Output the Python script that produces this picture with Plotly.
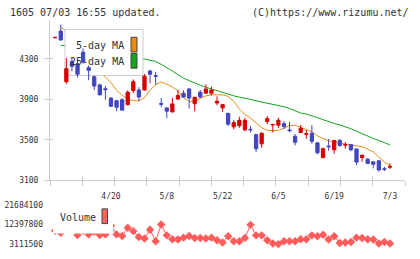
import plotly.graph_objects as go

W, H = 420, 259

# ---------------- data ----------------
date_labels = ["4/20", "5/8", "5/22", "6/5", "6/19", "7/3"]
label_index = [10, 20, 30, 40, 50, 60]

opens = [4508, 4574, 4074, 4274, 4252, 4365, 4213, 4123, 4042, 4004,
         3913, 3887, 3897, 3848, 3987, 3993, 3993, 4181, 4135, 3860,
         3816, 3777, 3903, 3961, 4003, 3858, 3971, 3961, 3961, 3865,
         3816, 3761, 3629, 3639, 3600, 3605, 3552, 3461, 3681, 3647,
         3645, 3661, 3598, 3536, 3574, 3555, 3565, 3471, 3326, 3440,
         3403, 3494, 3448, 3455, 3410, 3326, 3310, 3284, 3294, 3215,
         3230]
highs = [4515, 4639, 4307, 4316, 4300, 4403, 4235, 4135, 4055, 4032,
         3920, 3895, 3910, 3990, 4097, 4020, 4150, 4190, 4171, 3913,
         3820, 3913, 3993, 3990, 4010, 3925, 3993, 4048, 4026, 3929,
         3855, 3770, 3697, 3729, 3719, 3639, 3560, 3575, 3736, 3661,
         3719, 3687, 3678, 3558, 3649, 3597, 3645, 3480, 3425, 3510,
         3500, 3510, 3477, 3460, 3415, 3355, 3320, 3290, 3300, 3235,
         3268]
lows = [4503, 4477, 4051, 4177, 4116, 4252, 4090, 3993, 3940, 3897,
        3825, 3784, 3790, 3840, 3961, 3881, 3985, 4058, 4042, 3823,
        3713, 3770, 3897, 3918, 3810, 3784, 3916, 3955, 3939, 3842,
        3777, 3639, 3606, 3620, 3584, 3574, 3381, 3422, 3655, 3574,
        3616, 3606, 3574, 3445, 3567, 3510, 3461, 3355, 3316, 3393,
        3364, 3432, 3413, 3387, 3252, 3284, 3262, 3219, 3187, 3194,
        3213]
closes = [4512, 4487, 4203, 4226, 4148, 4268, 4187, 4032, 3945, 3996,
          3832, 3823, 3794, 3971, 4074, 3923, 4129, 4148, 4128, 3852,
          3784, 3855, 3939, 3923, 3913, 3920, 3923, 4003, 3993, 3881,
          3848, 3655, 3671, 3694, 3694, 3600, 3413, 3565, 3710, 3652,
          3694, 3632, 3592, 3477, 3616, 3561, 3487, 3374, 3413, 3433,
          3494, 3445, 3455, 3403, 3281, 3349, 3268, 3260, 3203, 3210,
          3238]
ma5 = [None, 4610, 4575, 4480, 4400, 4330, 4260, 4220, 4160, 4120,
       4065, 3990, 3940, 3905, 3887, 3887, 3915, 3990, 4045, 4072,
       4048, 4022, 3985, 3915, 3880, 3880, 3910, 3935, 3945, 3948,
       3945, 3930, 3880, 3805, 3750, 3717, 3670, 3620, 3595, 3590,
       3595, 3615, 3640, 3645, 3625, 3598, 3580, 3540, 3515, 3490,
       3483, 3471, 3455, 3447, 3442, 3432, 3410, 3381, 3330, 3280,
       3245]
ma25 = [None, 4435, 4425, 4415, 4405, 4395, 4385, 4375, 4365, 4355,
        4345, 4335, 4325, 4315, 4305, 4300, 4298, 4290, 4275, 4245,
        4215, 4180, 4145, 4110, 4085, 4060, 4040, 4020, 4003, 3982,
        3962, 3948, 3935, 3922, 3913, 3900, 3885, 3875, 3865, 3855,
        3840, 3828, 3810, 3790, 3765, 3755, 3740, 3720, 3700, 3680,
        3662, 3648, 3632, 3610, 3585, 3560, 3535, 3515, 3495, 3475,
        3451]
volume = [9500000, 8500000, 11000000, 10000000, 7500000, 9500000, 7750000, 9000000, 7500000, 7750000,
          12000000, 7750000, 6970000, 10870000, 9290000, 6500000, 5760000, 9940000, 4500000, 12400000,
          7290000, 5430000, 5290000, 6220000, 6970000, 6040000, 6040000, 5760000, 6220000, 4970000,
          3900000, 6830000, 4500000, 4500000, 6040000, 12260000, 7290000, 7290000, 4970000, 3440000,
          3150000, 4500000, 4500000, 4500000, 5430000, 5430000, 7290000, 6830000, 7610000, 5290000,
          6830000, 3720000, 3900000, 4180000, 6220000, 6040000, 5430000, 5290000, 3440000, 4180000,
          3440000]
price_ticks = [3100, 3500, 3900, 4300]
volume_ticks = [3111500, 12397800, 21684100]

# ---------------- style ----------------
RED = "#d80000"
BLUE = "#4046c0"
ORANGE = "#ee8a10"
GREEN = "#10a818"
VOLC = "#ff5c5c"
AXC = "#cccccc"
TXT = "#333333"
MONO = "DejaVu Sans Mono"

def fx(p):
    return p / W

def fy(p):
    return 1 - p / H

idx = list(range(len(closes)))
XMIN, XMAX = -0.93, 62.69
x_marks = [XMIN + (XMAX - XMIN) * k / 11 for k in range(12)]
# pixel rows: 3100 at y=184, 4300 at y=60
PMIN = 3100
PMAX = 4300 + (60 - 20) * (1200 / 124)
VPX = (21684100 - 3111500) / 40.0
VMIN = 3111500 - 6 * VPX
VMAX = 21684100 + 4 * VPX

fig = go.Figure()

# moving averages (base subplot, underneath the legend box)
fig.add_trace(go.Scatter(x=idx, y=ma25, mode="lines", line=dict(color=GREEN, width=1),
                         xaxis="x", yaxis="y", hoverinfo="skip"))
fig.add_trace(go.Scatter(x=idx, y=ma5, mode="lines", line=dict(color=ORANGE, width=1),
                         xaxis="x", yaxis="y", hoverinfo="skip"))

# legend box (pixel-space overlay between MA lines and candles)
fig.add_trace(go.Scatter(x=[65, 143, 143, 65, 65], y=[30, 30, 77, 77, 30], mode="lines",
                         fill="toself", fillcolor="white", line=dict(color=AXC, width=1),
                         xaxis="x2", yaxis="y2", hoverinfo="skip"))

# candles
fig.add_trace(go.Candlestick(x=idx, open=opens, high=highs, low=lows, close=closes,
                             increasing=dict(line=dict(color=RED, width=1), fillcolor=RED),
                             decreasing=dict(line=dict(color=BLUE, width=1), fillcolor=BLUE),
                             whiskerwidth=0, xaxis="x3", yaxis="y3"))

# volume
fig.add_trace(go.Scatter(x=idx, y=volume, mode="lines+markers",
                         line=dict(color=VOLC, width=1),
                         marker=dict(symbol="diamond", size=6.5, color=VOLC),
                         xaxis="x4", yaxis="y4", hoverinfo="skip"))

main_dom_x = [fx(50), fx(405)]
main_dom_y = [fy(184), fy(20)]
vol_dom_y = [fy(255), fy(205)]
tfont = dict(family=MONO, size=8, color=TXT)

fig.update_layout(
    width=W, height=H, autosize=False,
    margin=dict(l=0, r=0, t=0, b=0, pad=0),
    paper_bgcolor="white", plot_bgcolor="white",
    showlegend=False, boxgap=0.16,
    xaxis=dict(domain=main_dom_x, range=[XMIN, XMAX], anchor="y",
               showline=True, linecolor=AXC, linewidth=1, showgrid=False, zeroline=False,
               tickmode="array", tickvals=label_index, ticktext=date_labels, ticks="",
               tickfont=tfont, ticklabelstandoff=8,
               minor=dict(tickmode="array", tickvals=x_marks, ticks="outside", ticklen=5,
                          tickcolor=AXC, tickwidth=1, showgrid=False)),
    yaxis=dict(domain=main_dom_y, range=[PMIN, PMAX], anchor="x",
               showline=True, linecolor=AXC, linewidth=1, showgrid=False, zeroline=False,
               tickmode="array", tickvals=price_ticks, ticktext=[str(v) for v in price_ticks],
               ticks="outside", ticklen=5, tickcolor=AXC, tickfont=tfont, ticklabelstandoff=4),
    xaxis2=dict(overlaying="x", anchor="y2", range=[50, 405], visible=False),
    yaxis2=dict(overlaying="y", anchor="x2", range=[184, 20], visible=False),
    xaxis3=dict(overlaying="x", anchor="y3", range=[XMIN, XMAX], showgrid=False, zeroline=False,
                showline=False, tickmode="array", tickvals=x_marks, ticks="inside", ticklen=4,
                tickcolor=AXC, showticklabels=False, rangeslider=dict(visible=False)),
    yaxis3=dict(overlaying="y", anchor="x3", range=[PMIN, PMAX], showgrid=False, zeroline=False,
                showline=False, tickmode="array", tickvals=price_ticks, ticks="inside", ticklen=3,
                tickcolor=AXC, showticklabels=False),
    xaxis4=dict(domain=main_dom_x, anchor="y4", range=[XMIN, XMAX], visible=False),
    yaxis4=dict(domain=vol_dom_y, anchor="x4", range=[VMIN, VMAX], showline=False,
                showgrid=False, zeroline=False, tickmode="array", tickvals=volume_ticks,
                ticktext=[str(v) for v in volume_ticks], ticks="", tickfont=tfont,
                ticklabelstandoff=6),
)

shapes = [
    # legend swatches
    dict(type="rect", xref="paper", yref="paper", x0=fx(131), x1=fx(137), y0=fy(53), y1=fy(38),
         fillcolor=ORANGE, line=dict(color="#444444", width=1), layer="above"),
    dict(type="rect", xref="paper", yref="paper", x0=fx(131), x1=fx(137), y0=fy(69.5), y1=fy(54.5),
         fillcolor=GREEN, line=dict(color="#444444", width=1), layer="above"),
    # volume legend background
    dict(type="rect", xref="paper", yref="paper", x0=fx(53), x1=fx(113), y0=fy(238), y1=fy(203),
         fillcolor="white", line=dict(width=0), layer="above"),
    dict(type="rect", xref="paper", yref="paper", x0=fx(102), x1=fx(107.5), y0=fy(228), y1=fy(213),
         fillcolor="#ff6060", line=dict(color="#444444", width=1), layer="above"),
]
fig.update_layout(shapes=shapes)

big = dict(family=MONO, size=10, color=TXT)
annotations = [
    dict(text="1605 07/03 16:55 updated.", x=fx(8), y=fy(12.7), xanchor="left", yanchor="middle"),
    dict(text="(C)https://www.rizumu.net/", x=fx(411), y=fy(12.7), xanchor="right", yanchor="middle"),
    dict(text="5-day MA", x=fx(126), y=fy(46), xanchor="right", yanchor="middle"),
    dict(text="25-day MA", x=fx(126), y=fy(62.5), xanchor="right", yanchor="middle"),
    dict(text="Volume", x=fx(58), y=fy(222), xanchor="left", yanchor="middle"),
]
for a in annotations:
    a.update(xref="paper", yref="paper", showarrow=False, font=big)
fig.update_layout(annotations=annotations)

fig.write_html("out.html")
